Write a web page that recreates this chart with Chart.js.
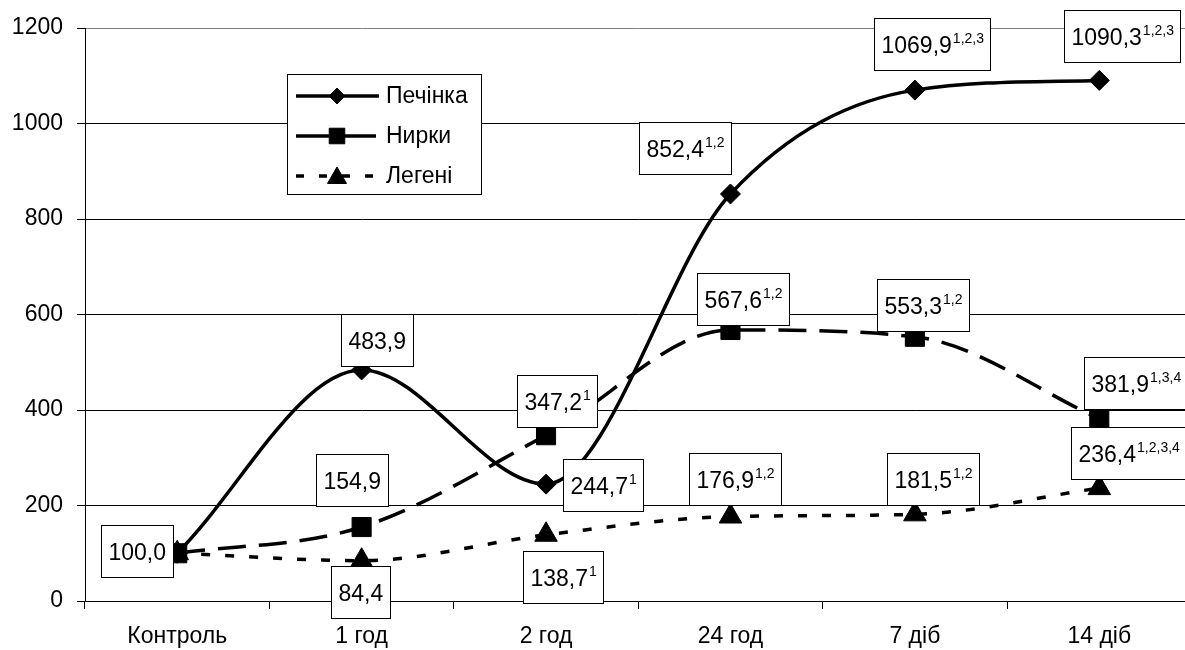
<!DOCTYPE html>
<html lang="uk">
<head>
<meta charset="UTF-8">
<title>Печінка / Нирки / Легені</title>
<script src="https://cdn.jsdelivr.net/npm/chart.js"></script>
<style>
  html, body { margin: 0; padding: 0; background: #fff; overflow: hidden; }
  #wrap { width: 1206px; height: 650px; }
</style>
</head>
<body>
<div id="wrap"><canvas id="chart" width="1206" height="650"></canvas></div>
<script>
// --- data ---
const categories = ['Контроль', '1 год', '2 год', '24 год', '7 діб', '14 діб'];
const seriesNames = ['Печінка', 'Нирки', 'Легені'];
const liver   = [100.0, 483.9, 244.7, 852.4, 1069.9, 1090.3];
const kidneys = [100.0, 154.9, 347.2, 567.6, 553.3, 381.9];
const lungs   = [100.0, 84.4, 138.7, 176.9, 181.5, 236.4];
const yTicks  = [0, 200, 400, 600, 800, 1000, 1200];

// superscript marks on each value label (null = no label drawn)
const liverMarks  = ['', '', '1', '1,2', '1,2,3', '1,2,3'];
const kidneyMarks = [null, '', '1', '1,2', '1,2', '1,3,4'];
const lungMarks   = [null, '', '1', '1,2', '1,2', '1,2,3,4'];

// label box centre, relative to its point (px)
const liverOffsets  = [[-40, -2], [15, -30], [57, 1], [-45, -46], [17, -46], [23, -44]];
const kidneyOffsets = [null, [-10, -47], [11, -34], [13, -31], [8, -32], [37, -36]];
const lungOffsets   = [null, [-1, 31], [17, 42], [5, -38], [18, -35], [29, -35]];

const FONT = '"Liberation Sans", Arial, sans-serif';
const fmt = v => v.toFixed(1).replace('.', ',');

const allMarks = [liverMarks, kidneyMarks, lungMarks];
const allOffsets = [liverOffsets, kidneyOffsets, lungOffsets];

const valueLabels = {
    id: 'valueLabels',
    afterDatasetsDraw(chart) {
        const ctx = chart.ctx;
        ctx.save();
        allMarks.forEach((marks, d) => {
            const meta = chart.getDatasetMeta(d);
            marks.forEach((sup, i) => {
                if (sup === null) return;
                const pt = meta.data[i];
                const [dx, dy] = allOffsets[d][i];
                const main = fmt(chart.data.datasets[d].data[i]);
                ctx.font = '23px ' + FONT;
                const wMain = ctx.measureText(main).width;
                ctx.font = '14px ' + FONT;
                const wSup = sup ? ctx.measureText(sup).width + 1 : 0;
                const w = Math.round(wMain + wSup + 14), h = 52;
                const cx = pt.x + dx, cy = pt.y + dy;
                const left = Math.round(cx - w / 2) + 0.5, top = Math.round(cy - h / 2) + 0.5;
                ctx.fillStyle = '#fff';
                ctx.fillRect(left, top, w, h);
                ctx.strokeStyle = '#000';
                ctx.lineWidth = 1;
                ctx.strokeRect(left, top, w, h);
                ctx.fillStyle = '#000';
                ctx.textAlign = 'left';
                ctx.textBaseline = 'alphabetic';
                const base = top + h / 2 + 8.5;
                ctx.font = '23px ' + FONT;
                ctx.fillText(main, left + 7, base);
                if (sup) {
                    ctx.font = '14px ' + FONT;
                    ctx.fillText(sup, left + 7 + wMain + 1, base - 10);
                }
            });
        });
        ctx.restore();
    }
};

// legend box drawn inside the plot, like the original
const boxLegend = {
    id: 'boxLegend',
    afterDraw(chart) {
        const ctx = chart.ctx;
        const h = Chart.helpers;
        ctx.save();
        ctx.fillStyle = '#fff';
        ctx.fillRect(287.5, 74.5, 194, 120);
        ctx.strokeStyle = '#000';
        ctx.lineWidth = 1;
        ctx.strokeRect(287.5, 74.5, 194, 120);

        const rows = [
            { y: 96, style: 'rectRot', r: 8, dash: [] },
            { y: 136, style: 'rect', r: 11, dash: [33, 14] },
            { y: 176, style: 'triangle', r: 11, dash: [8, 15] }
        ];
        rows.forEach((row, k) => {
            ctx.strokeStyle = '#000';
            ctx.lineWidth = 3.5;
            ctx.setLineDash(row.dash);
            ctx.beginPath();
            ctx.moveTo(296, row.y);
            ctx.lineTo(379, row.y);
            ctx.stroke();
            ctx.setLineDash([]);
            ctx.fillStyle = '#000';
            ctx.lineWidth = 1;
            h.drawPoint(ctx, { pointStyle: row.style, radius: row.r, rotation: 0, borderWidth: 1 }, 337, row.y + (row.style === 'triangle' ? 2 : 0));
            ctx.fillStyle = '#000';
            ctx.font = '23px ' + FONT;
            ctx.textAlign = 'left';
            ctx.textBaseline = 'middle';
            ctx.fillText(seriesNames[k], 386, row.y + 1);
        });
        ctx.restore();
    }
};

const lineStyle = {
    borderColor: '#000',
    borderWidth: 3.5,
    cubicInterpolationMode: 'monotone',
    pointBackgroundColor: '#000',
    pointBorderColor: '#000',
    pointBorderWidth: 1
};

new Chart(document.getElementById('chart'), {
    type: 'line',
    data: {
        labels: categories,
        datasets: [
            { ...lineStyle, label: seriesNames[0], data: liver, pointStyle: 'rectRot', pointRadius: 10 },
            { ...lineStyle, label: seriesNames[1], data: kidneys, borderDash: [28, 13], pointStyle: 'rect', pointRadius: 13.5 },
            { ...lineStyle, label: seriesNames[2], data: lungs, borderDash: [9, 15], pointStyle: 'triangle', pointRadius: 13 }
        ]
    },
    options: {
        responsive: false,
        animation: false,
        devicePixelRatio: 1,
        layout: { padding: { top: 28, right: 0, left: 0, bottom: 0 } },
        plugins: {
            legend: { display: false },
            tooltip: { enabled: false }
        },
        scales: {
            x: {
                offset: true,
                grid: { offset: true, drawOnChartArea: false, drawTicks: true, tickLength: 8, color: '#000' },
                border: { color: '#000', width: 1 },
                ticks: { color: '#000', font: { family: FONT, size: 23 }, padding: 14, maxRotation: 0 },
                afterFit(scale) { scale.height = 49; }
            },
            y: {
                min: 0,
                max: 1200,
                afterBuildTicks(scale) { scale.ticks = yTicks.map(v => ({ value: v })); },
                grid: {
                    color: c => (c.tick && c.tick.value === 1200 ? '#808080' : '#000'),
                    tickColor: '#000',
                    tickLength: 8,
                    lineWidth: 1
                },
                border: { color: '#000', width: 1 },
                ticks: {
                    color: '#000',
                    font: { family: FONT, size: 23 },
                    padding: 14,
                    callback: v => String(v)
                },
                afterFit(scale) { scale.width = 85; }
            }
        }
    },
    plugins: [valueLabels, boxLegend]
});
</script>
</body>
</html>
